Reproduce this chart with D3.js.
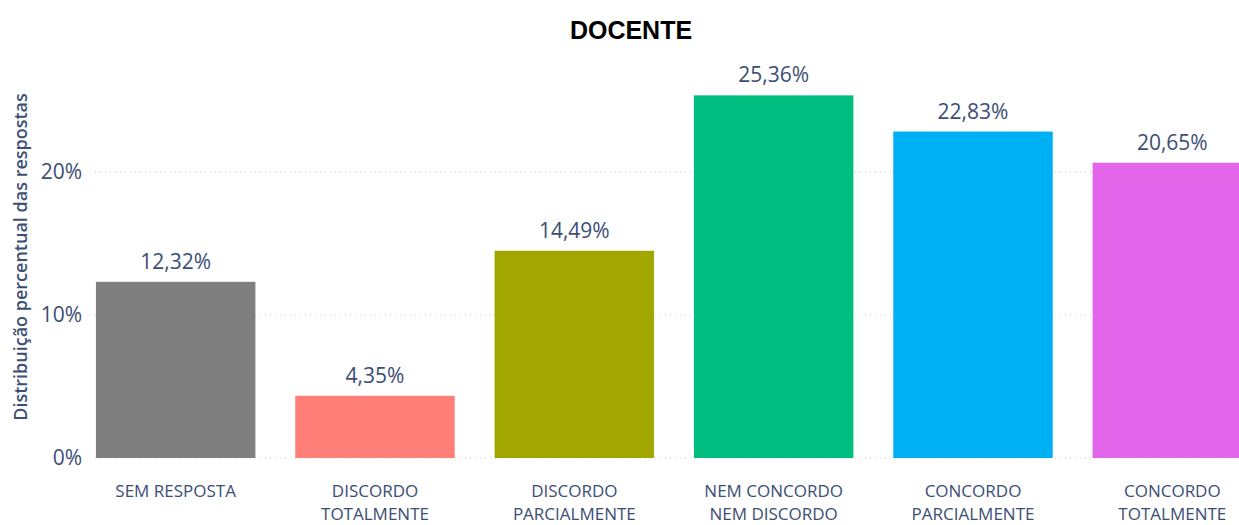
<!DOCTYPE html>
<html>
<head>
<meta charset="utf-8">
<script src="https://cdn.jsdelivr.net/npm/d3@7"></script>
<style>
  body { margin: 0; background: #fff; overflow: hidden; }
  svg { display: block; }
</style>
</head>
<body>
<svg id="chart" width="1239" height="525"></svg>
<script>
const categories = [
  ["SEM RESPOSTA"],
  ["DISCORDO", "TOTALMENTE"],
  ["DISCORDO", "PARCIALMENTE"],
  ["NEM CONCORDO", "NEM DISCORDO"],
  ["CONCORDO", "PARCIALMENTE"],
  ["CONCORDO", "TOTALMENTE"]
];
const values = [12.32, 4.35, 14.49, 25.36, 22.83, 20.65];
const colors = ["#7f7f7f", "#ff7f78", "#a1a700", "#00be7f", "#00b0f4", "#e366ea"];
const yTicks = [0, 10, 20];

const svg = d3.select("#chart");
const width = 1239;
const textColor = "#3b4e75";
const font = "'Open Sans', sans-serif";

const x = d3.scaleBand()
  .domain(d3.range(values.length))
  .range([76, 1272])
  .paddingInner(0.2)
  .paddingOuter(0.1);

const y = d3.scaleLinear()
  .domain([0, 10])
  .range([458, 315]);

// title
svg.append("text")
  .attr("x", 631)
  .attr("y", 39)
  .attr("text-anchor", "middle")
  .attr("font-family", "Arial, 'Liberation Sans', sans-serif")
  .attr("font-weight", "bold")
  .attr("font-size", 25)
  .attr("fill", "#000")
  .text("DOCENTE");

// gridlines
svg.append("g")
  .selectAll("line")
  .data(yTicks)
  .join("line")
  .attr("x1", 95)
  .attr("x2", width)
  .attr("y1", d => y(d))
  .attr("y2", d => y(d))
  .attr("stroke", "#c8c8c8")
  .attr("stroke-width", 1)
  .attr("stroke-dasharray", "1,4");

// y axis
const yAxis = svg.append("g")
  .attr("transform", "translate(82,0)")
  .call(d3.axisLeft(y).tickValues(yTicks).tickSize(0).tickPadding(0).tickFormat(d => d + "%"));
yAxis.select(".domain").remove();
yAxis.selectAll("text")
  .attr("font-family", font)
  .attr("font-size", 21)
  .attr("fill", textColor);

svg.append("text")
  .attr("transform", "translate(27,257) rotate(-90)")
  .attr("text-anchor", "middle")
  .attr("font-family", font)
  .attr("font-weight", 600)
  .attr("font-size", 18)
  .attr("fill", textColor)
  .text("Distribuição percentual das respostas");

// bars
svg.append("g")
  .selectAll("rect")
  .data(values)
  .join("rect")
  .attr("x", (d, i) => x(i))
  .attr("width", x.bandwidth())
  .attr("y", d => y(d))
  .attr("height", d => y(0) - y(d))
  .attr("fill", (d, i) => colors[i]);

// value labels
svg.append("g")
  .selectAll("text")
  .data(values)
  .join("text")
  .attr("x", (d, i) => x(i) + x.bandwidth() / 2)
  .attr("y", d => y(d) - 13)
  .attr("text-anchor", "middle")
  .attr("font-family", font)
  .attr("font-size", 21)
  .attr("fill", textColor)
  .text(d => d.toFixed(2).replace(".", ",") + "%");

// category labels
const cat = svg.append("g")
  .selectAll("text")
  .data(categories)
  .join("text")
  .attr("x", (d, i) => x(i) + x.bandwidth() / 2)
  .attr("y", 497)
  .attr("text-anchor", "middle")
  .attr("font-family", font)
  .attr("font-size", 17)
  .attr("fill", textColor);
cat.selectAll("tspan")
  .data(d => d)
  .join("tspan")
  .attr("x", function () { return d3.select(this.parentNode).attr("x"); })
  .attr("dy", (d, i) => i === 0 ? 0 : 23)
  .text(d => d);
</script>
</body>
</html>
